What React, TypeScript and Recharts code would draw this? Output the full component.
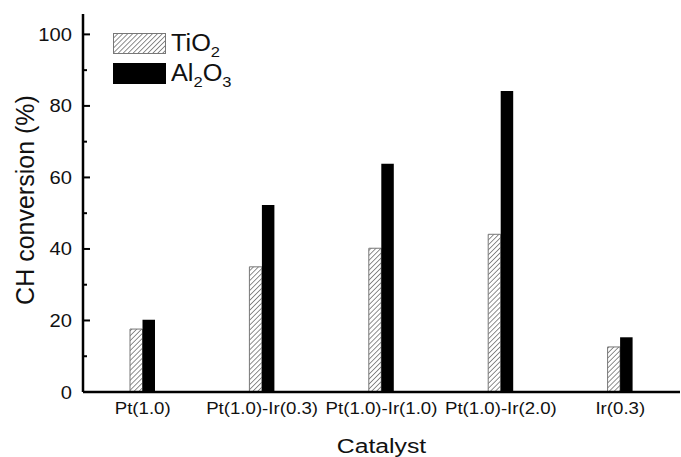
import React from "react";
import { BarChart, Bar, XAxis, YAxis, Legend } from "recharts";

// values
const catalysts = ["Pt(1.0)", "Pt(1.0)-Ir(0.3)", "Pt(1.0)-Ir(1.0)", "Pt(1.0)-Ir(2.0)", "Ir(0.3)"];
const tio2Values = [17.6, 35.0, 40.2, 44.1, 12.6];
const al2o3Values = [20.2, 52.3, 63.8, 84.2, 15.3];
const yTicks = [0, 10, 20, 30, 40, 50, 60, 70, 80, 90, 100];

const data = catalysts.map((name, i) => ({
  name,
  tio2: tio2Values[i],
  al2o3: al2o3Values[i],
}));

const FONT = "Arial, 'Liberation Sans', Helvetica, sans-serif";

function YTick(props: any) {
  const { x, y, payload } = props;
  const v = payload.value;
  const major = v % 20 === 0;
  return (
    <g>
      <line x1={x + 11} x2={x + 11 + (major ? 7 : 4)} y1={y} y2={y} stroke="#000" strokeWidth={2} />
      {major && (
        <text
          transform={`translate(${x},${y}) scale(1.12,1)`}
          dy={6.5}
          textAnchor="end"
          fontSize={18}
          fontFamily={FONT}
          fill="#111"
        >
          {v}
        </text>
      )}
    </g>
  );
}

function XTick(props: any) {
  const { x, y, payload } = props;
  return (
    <text
      transform={`translate(${x},${y}) scale(1.13,1)`}
      dy={19.5}
      textAnchor="middle"
      fontSize={16.5}
      fontFamily={FONT}
      fill="#111"
    >
      {payload.value}
    </text>
  );
}

function XTitle(props: any) {
  const { viewBox } = props;
  const cx = viewBox.x + viewBox.width / 2;
  return (
    <text
      transform={`translate(${cx},${viewBox.y + 61}) scale(1.18,1)`}
      textAnchor="middle"
      fontSize={21}
      fontFamily={FONT}
      fill="#111"
    >
      Catalyst
    </text>
  );
}

function YTitle(props: any) {
  const { viewBox } = props;
  const cy = viewBox.y + viewBox.height / 2 - 3;
  return (
    <text
      transform={`translate(25,${cy}) rotate(-90)`}
      textAnchor="middle"
      dominantBaseline="central"
      fontSize={25}
      fontFamily={FONT}
      fill="#111"
    >
      CH conversion (%)
    </text>
  );
}

function Swatch({ hatched }: { hatched: boolean }) {
  return (
    <svg width={53} height={21} style={{ display: "block" }}>
      <defs>
        <pattern id="legHatch" patternUnits="userSpaceOnUse" width={3.5} height={3.5} patternTransform="rotate(45)">
          <rect width={3.5} height={3.5} fill="#fff" />
          <line x1={0} y1={0} x2={0} y2={3.5} stroke="#444" strokeWidth={1.2} />
        </pattern>
      </defs>
      <rect
        x={0.5}
        y={0.5}
        width={52}
        height={20}
        fill={hatched ? "url(#legHatch)" : "#000"}
        stroke={hatched ? "#777" : "#000"}
      />
    </svg>
  );
}

function LegendBox() {
  const row = { display: "flex", alignItems: "center", height: 30 } as const;
  const sub = { fontSize: 15, position: "relative", top: 6 } as const;
  const label = { marginLeft: 5, display: "inline-block", transform: "scaleX(1.1)", transformOrigin: "left" } as const;
  return (
    <div style={{ fontFamily: FONT, fontSize: 23, color: "#111" }}>
      <div style={row}>
        <Swatch hatched />
        <span style={label}>
          TiO<span style={sub}>2</span>
        </span>
      </div>
      <div style={row}>
        <Swatch hatched={false} />
        <span style={label}>
          Al<span style={sub}>2</span>O<span style={sub}>3</span>
        </span>
      </div>
    </div>
  );
}

export default function App() {
  return (
    <div style={{ position: "absolute", left: 0, top: 0, background: "#fff" }}>
      <BarChart
        width={681}
        height={457}
        data={data}
        margin={{ top: 14, right: 1, bottom: 0, left: 0 }}
        barSize={12.5}
        barGap={0}
        barCategoryGap={0}
      >
        <defs>
          <pattern id="hatch" patternUnits="userSpaceOnUse" width={3.5} height={3.5} patternTransform="rotate(45)">
            <rect width={3.5} height={3.5} fill="#fff" />
            <line x1={0} y1={0} x2={0} y2={3.5} stroke="#444" strokeWidth={1.2} />
          </pattern>
        </defs>
        <XAxis
          dataKey="name"
          height={65}
          tickLine={false}
          tickSize={0}
          tickMargin={3}
          interval={0}
          axisLine={{ stroke: "#000", strokeWidth: 2.5 }}
          tick={<XTick />}
          label={<XTitle />}
        />
        <XAxis
          xAxisId="top"
          dataKey="name"
          orientation="top"
          height={0}
          tick={false}
          tickLine={false}
          axisLine={{ stroke: "#000", strokeWidth: 3.5 }}
        />
        <YAxis
          width={83}
          domain={[0, 105.7]}
          ticks={yTicks}
          interval={0}
          tickLine={false}
          tickSize={0}
          tickMargin={11}
          axisLine={{ stroke: "#000", strokeWidth: 2.5 }}
          tick={<YTick />}
          label={<YTitle />}
        />
        <YAxis
          yAxisId="right"
          orientation="right"
          width={0}
          domain={[0, 1]}
          tick={false}
          tickLine={false}
          axisLine={{ stroke: "#888", strokeWidth: 1.5 }}
        />
        <Legend
          verticalAlign="middle"
          align="center"
          layout="vertical"
          wrapperStyle={{ position: "absolute", left: 113, top: 28, width: "auto" }}
          content={() => <LegendBox />}
        />
        <Bar dataKey="tio2" name="TiO2" fill="url(#hatch)" stroke="#777" strokeWidth={1} isAnimationActive={false} />
        <Bar dataKey="al2o3" name="Al2O3" fill="#000" isAnimationActive={false} />
      </BarChart>
    </div>
  );
}
